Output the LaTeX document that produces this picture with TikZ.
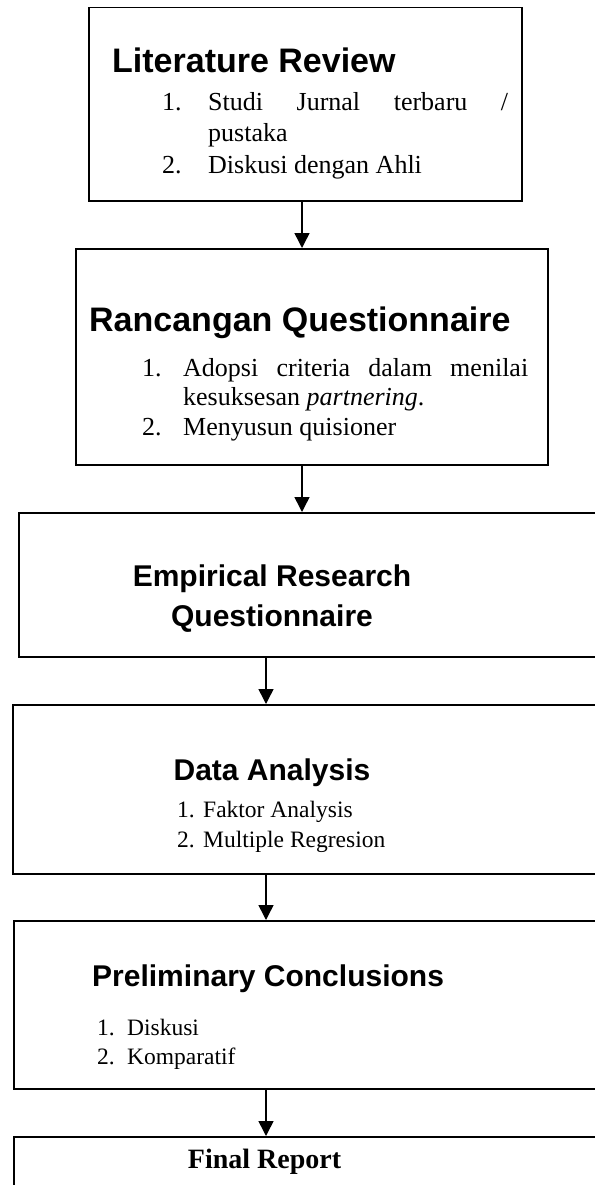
\documentclass[tikz,border=0pt]{standalone}
\usepackage{fontspec}
\setmainfont{Liberation Serif}
\newfontfamily\arialf{Liberation Sans}
\usetikzlibrary{arrows.meta}
\tikzset{
  stepbox/.style={draw=black, line width=1.5pt, rectangle, inner sep=0pt, anchor=north west},
  ttl/.style={inner sep=0pt, anchor=base west, font=\arialf\bfseries\fontsize{34}{40}\selectfont},
  ttlb/.style={inner sep=0pt, anchor=base, font=\arialf\bfseries\fontsize{30}{36}\selectfont},
  ttlc/.style={inner sep=0pt, anchor=base west, font=\arialf\bfseries\fontsize{30}{36}\selectfont},
  itm/.style={inner sep=0pt, anchor=base west, font=\fontsize{26}{30}\selectfont},
  itms/.style={inner sep=0pt, anchor=base west, font=\fontsize{23.5}{28}\selectfont},
  flow/.style={line width=1.5pt, -{Triangle[width=15pt,length=15pt]}}
}
\begin{document}
\begin{tikzpicture}[x=1pt,y=-1pt]
\useasboundingbox (0,0) rectangle (594,1185);
% boxes
\node[stepbox, minimum width=433pt, minimum height=193pt] (b1) at (88,7) {};
\node[stepbox, minimum width=472pt, minimum height=216pt] (b2) at (75,248) {};
\node[stepbox, minimum width=592pt, minimum height=144pt] (b3) at (18,512) {};
\node[stepbox, minimum width=598pt, minimum height=169pt] (b4) at (12,704) {};
\node[stepbox, minimum width=597pt, minimum height=168pt] (b5) at (13,920) {};
\node[stepbox, minimum width=597pt, minimum height=64pt] (b6) at (13,1136) {};
% box 1
\node[ttl] (t1) at (112,73) {Literature Review};
\node[itm] (n11) at (162,111) {1.};
\node[itm] (l11) at (208,111) {\hbox to 300pt{Studi\hfill Jurnal\hfill terbaru\hfill /}};
\node[itm] (l12) at (208,142) {pustaka};
\node[itm] (n12) at (162,174) {2.};
\node[itm] (l13) at (208,174) {Diskusi dengan Ahli};
% box 2
\node[ttl] (t2) at (89,331) {Rancangan Questionnaire};
\node[itm] (n21) at (142,376) {1.};
\node[itm] (l21) at (183,376) {\hbox to 345pt{Adopsi\hfill criteria\hfill dalam\hfill menilai}};
\node[itm] (l22) at (183,405) {kesuksesan \textit{partnering}.};
\node[itm] (n22) at (142,435) {2.};
\node[itm] (l23) at (183,435) {Menyusun quisioner};
% box 3
\node[ttlb] (t3a) at (272,586) {Empirical Research};
\node[ttlb] (t3b) at (272,626) {Questionnaire};
% box 4
\node[ttlb] (t4) at (272,780) {Data Analysis};
\node[itms] (n41) at (177,817) {1.};
\node[itms] (l41) at (203,817) {Faktor Analysis};
\node[itms] (n42) at (177,847) {2.};
\node[itms] (l42) at (203,847) {Multiple Regresion};
% box 5
\node[ttlc] (t5) at (92,986) {Preliminary Conclusions};
\node[itms] (n51) at (97,1035) {1.};
\node[itms] (l51) at (127,1035) {Diskusi};
\node[itms] (n52) at (97,1064) {2.};
\node[itms] (l52) at (127,1064) {Komparatif};
% box 6
\node[inner sep=0pt, anchor=base, font=\bfseries\fontsize{28}{32}\selectfont] (t6) at (264.5,1168) {Final Report};
% arrows
\coordinate (ax1) at (302,0);
\coordinate (ax2) at (266,0);
\draw[flow] (b1.south -| ax1) -- (b2.north -| ax1);
\draw[flow] (b2.south -| ax1) -- (b3.north -| ax1);
\draw[flow] (b3.south -| ax2) -- (b4.north -| ax2);
\draw[flow] (b4.south -| ax2) -- (b5.north -| ax2);
\draw[flow] (b5.south -| ax2) -- (b6.north -| ax2);
\end{tikzpicture}
\end{document}
